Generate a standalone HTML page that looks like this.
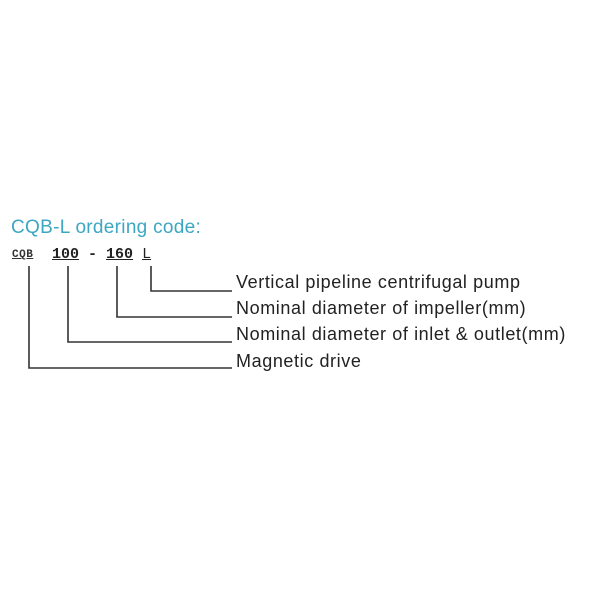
<!DOCTYPE html>
<html><head><style>
body{margin:0;width:600px;height:600px;background:#fff;position:relative;overflow:hidden;font-family:"Liberation Sans",sans-serif;}
.t{position:absolute;white-space:nowrap;}
.l{font-size:18px;letter-spacing:0.6px;color:#222;left:236px;}
</style></head><body>
<div class="t" style="left:11px;top:217px;font-size:19px;letter-spacing:0.3px;color:#3ca7c2;">CQB-L ordering code:</div>
<div class="t" style="left:12px;top:249px;font-size:11px;font-weight:bold;font-family:'Liberation Mono',monospace;color:#333;letter-spacing:0.5px;"><u>CQB</u></div>
<div class="t" style="left:52px;top:246px;font-size:15px;font-weight:bold;font-family:'Liberation Mono',monospace;color:#222;"><u>100</u> - <u>160</u> <u style="font-weight:normal">L</u></div>
<svg width="600" height="600" style="position:absolute;left:0;top:0" fill="none" stroke="#333" stroke-width="1.6">
<polyline points="151,266 151,291 232,291"/>
<polyline points="117,266 117,317 232,317"/>
<polyline points="68,266 68,342 232,342"/>
<polyline points="29,266 29,368 232,368"/>
</svg>
<div class="t l" style="top:272px;">Vertical pipeline centrifugal pump</div>
<div class="t l" style="top:298px;">Nominal diameter of impeller(mm)</div>
<div class="t l" style="top:324px;">Nominal diameter of inlet &amp; outlet(mm)</div>
<div class="t l" style="top:351px;">Magnetic drive</div>
</body></html>
